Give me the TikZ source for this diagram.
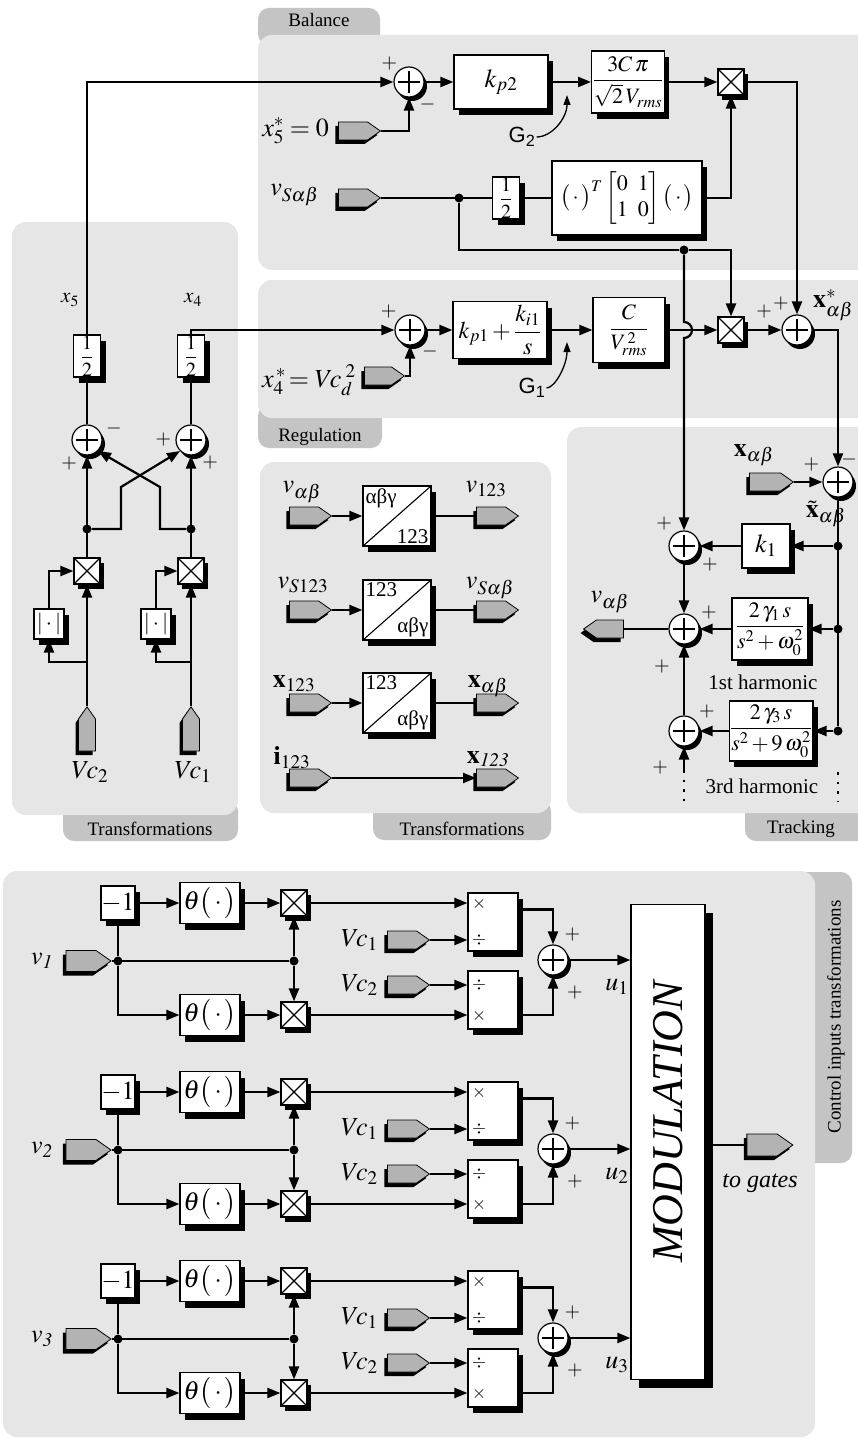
\documentclass[tikz,border=0pt]{standalone}
\usepackage{amsmath}
\usepackage{mathptmx}
\usepackage{fontspec}
\setmainfont{Liberation Serif}
\setsansfont{Liberation Sans}
\usepackage{tikz}
\usetikzlibrary{arrows.meta,shapes.symbols,shadows,calc}
\usepackage{xcolor}
\definecolor{panelbg}{HTML}{E6E6E6}
\definecolor{tabbg}{HTML}{C4C4C4}
\definecolor{portbg}{HTML}{B3B3B3}
\pgfdeclarelayer{bg}
\pgfsetlayers{bg,main}

\begin{document}
\begin{tikzpicture}[
    x=1pt, y=-1pt,
    ln/.style={line width=2.2pt},
    arr/.style={ln, -{Triangle[length=13pt,width=10pt]}},
    sarr/.style={line width=1.3pt, -{Triangle[length=10pt,width=7pt]}},
    dotl/.style={line width=2.5pt, dash pattern=on 2.5pt off 7pt},
    blk/.style={draw, fill=white, line width=1.2pt, inner sep=1pt, font=\fontsize{26}{30}\selectfont,
      drop shadow={shadow xshift=5pt, shadow yshift=-6pt, fill=black, opacity=1}},
    frc/.style={blk, font=\fontsize{22}{26}\selectfont},
    half/.style={blk, minimum width=27pt, minimum height=42pt, inner sep=0pt, font=\fontsize{20}{24}\selectfont},
    tfm/.style={blk, minimum width=68pt, minimum height=60pt,
      path picture={\draw[line width=1.1pt] (path picture bounding box.south west) -- (path picture bounding box.north east);}},
    cnr/.style={font=\fontsize{21}{24}\selectfont, inner sep=3pt},
    sumj/.style={circle, draw, fill=white, line width=1.2pt, minimum size=30pt, inner sep=0pt,
      drop shadow={shadow xshift=3pt, shadow yshift=-4pt, fill=black, opacity=1},
      path picture={\draw[line width=1.2pt] (path picture bounding box.center) +(-11pt,0pt) -- +(11pt,0pt) +(0pt,-11pt) -- +(0pt,11pt);}},
    mult/.style={draw, fill=white, line width=1.2pt, minimum size=26pt, inner sep=0pt,
      drop shadow={shadow xshift=4pt, shadow yshift=-5pt, fill=black, opacity=1},
      path picture={\draw[line width=1.1pt] (path picture bounding box.south west) -- (path picture bounding box.north east) (path picture bounding box.north west) -- (path picture bounding box.south east);}},
    port/.style={signal, signal to=east, signal pointer angle=70, draw, fill=portbg, line width=0.8pt,
      minimum width=42pt, minimum height=18pt, inner sep=0pt,
      drop shadow={shadow xshift=-3pt, shadow yshift=-4pt, fill=black, opacity=1}},
    jdot/.style={circle, fill, inner sep=0pt, minimum size=9pt},
    lbl/.style={font=\fontsize{26}{30}\selectfont, inner sep=1pt},
    slbl/.style={font=\fontsize{21}{24}\selectfont, inner sep=1pt},
    sgn/.style={font=\fontsize{20}{22}\selectfont, inner sep=0pt},
    opr/.style={font=\fontsize{18}{20}\selectfont, inner sep=0pt},
    gsf/.style={font=\fontsize{22}{24}\selectfont\sffamily, inner sep=1pt},
    tabtxt/.style={font=\fontsize{19}{22}\selectfont, inner sep=0pt},
  ]
  \useasboundingbox (0,0) rectangle (857,1439);

  \begin{pgfonlayer}{bg}
    \fill[tabbg, rounded corners=11pt] (258,8) rectangle (380,45);
    \fill[panelbg, rounded corners=14pt] (258,35) rectangle (880,270);
    \fill[tabbg, rounded corners=11pt] (258,405) rectangle (382,448);
    \fill[panelbg, rounded corners=14pt] (258,280) rectangle (880,418);
    \fill[tabbg, rounded corners=11pt] (63,800) rectangle (238,841);
    \fill[panelbg, rounded corners=14pt] (12,222) rectangle (238,815);
    \fill[tabbg, rounded corners=11pt] (373,800) rectangle (551,840);
    \fill[panelbg, rounded corners=14pt] (260,462) rectangle (551,813);
    \fill[tabbg, rounded corners=11pt] (745,800) rectangle (880,841);
    \fill[panelbg, rounded corners=14pt] (567,427) rectangle (880,813);
    \fill[tabbg, rounded corners=11pt] (790,872) rectangle (852,1163);
    \fill[panelbg, rounded corners=14pt] (3,871) rectangle (815,1437);
  \end{pgfonlayer}
  \node[tabtxt] (tbal) at (319,20) {Balance};
  \node[tabtxt] (treg) at (320,437) {Regulation};
  \node[tabtxt] (ttr1) at (150,829) {Transformations};
  \node[tabtxt] (ttr2) at (462,829) {Transformations};
  \node[tabtxt] (ttrk) at (801,829) {Tracking};
  \node[tabtxt, rotate=90] (tctl) at (836,1017) {Control inputs transformations};

  \node[sumj, label={[sgn, label distance=1pt]135:$+$}, label={[sgn, label distance=3pt]-55:$-$}] (sb) at (409,82) {};
  \node[blk, minimum width=94pt, minimum height=54pt] (kp2) at (501,82) {$k_{p2}$};
  \node[frc, minimum width=72pt, minimum height=62pt] (g2f) at (628,82) {$\dfrac{3C\,\pi}{\sqrt{2}\,V_{rms}}$};
  \node[mult] (mb) at (731,82) {};
  \node[port] (x5r) at (353,131) {};
  \node[lbl, anchor=east] (x5l) at (330,131) {$x_5^{*}=0$};
  \node[gsf] (g2) at (522,137) {G\textsubscript{2}};
  \coordinate (g2p) at (567,95);
  \node[port] (vs) at (353,198) {};
  \node[lbl, anchor=east] (vsl) at (320,195) {$v_{S\alpha\beta}$};
  \node[jdot] (dt1) at (459,198) {};
  \node[half] (hf1) at (506,198) {$\dfrac{1}{2}$};
  \node[frc, minimum width=150pt, minimum height=74pt] (mtx) at (627,198) {$\bigl(\,\cdot\,\bigr)^{T}\begin{bmatrix}0&1\\1&0\end{bmatrix}\bigl(\,\cdot\,\bigr)$};
  \node[jdot] (dt2) at (684,250) {};

  \node[sumj, label={[sgn, label distance=2pt]140:$+$}, label={[sgn, label distance=3pt]-50:$-$}] (sr) at (410,330) {};
  \node[port, minimum width=40pt] (x4r) at (378,376) {};
  \node[lbl, anchor=east] (x4l) at (357,380) {$x_4^{\,*}\!= V\!c_d^{\;2}$};
  \node[blk, minimum width=94pt, minimum height=57pt, font=\fontsize{24}{28}\selectfont] (kp1) at (500,330) {$k_{p1}+\dfrac{k_{i1}}{s}$};
  \node[frc, minimum width=72pt, minimum height=65pt] (g1f) at (629,330) {$\dfrac{C}{V_{rms}^{\,2}}$};
  \node[gsf] (g1) at (532,388) {G\textsubscript{1}};
  \coordinate (g1p) at (567,342);
  \node[mult] (mx) at (731,330) {};
  \node[sumj, label={[sgn, label distance=12pt]155:$+$}, label={[sgn, label distance=6pt]112:$+$}] (sx) at (797,330) {};
  \node[lbl, anchor=west] (xsl) at (812,305) {$\mathbf{x}^{*}_{\alpha\beta}$};

  \node[port, minimum width=44pt] (xab) at (765,482) {};
  \node[lbl] (xabl) at (754,455) {$\mathbf{x}_{\alpha\beta}$};
  \node[sumj, label={[sgn, label distance=6pt]150:$+$}, label={[sgn, label distance=0pt]78:$-$}] (st) at (838,482) {};
  \node[lbl] (xtl) at (826,514) {$\tilde{\mathbf{x}}_{\alpha\beta}$};
  \node[jdot] (dk1) at (838,546) {};
  \node[jdot] (dk2) at (838,629) {};
  \node[jdot] (dk3) at (838,731) {};
  \node[blk, minimum width=48pt, minimum height=44pt] (k1) at (766,546) {$k_1$};
  \node[sumj, label={[sgn, label distance=4pt]127:$+$}, label={[sgn, label distance=6pt]-34:$+$}] (sk) at (684,546) {};
  \node[frc, minimum width=76pt, minimum height=62pt] (h1) at (770,629) {$\dfrac{2\,\gamma_1\,s}{s^2+\omega_0^2}$};
  \node[sumj, label={[sgn, label distance=4pt]30:$+$}, label={[sgn, label distance=18pt]-115:$+$}] (sm) at (684,629) {};
  \node[slbl] (h1l) at (763,682) {1st harmonic};
  \node[frc, minimum width=82pt, minimum height=60pt] (h3) at (771,731) {$\dfrac{2\,\gamma_3\,s}{s^2+9\,\omega_0^2}$};
  \node[sumj, label={[sgn, label distance=4pt]40:$+$}, label={[sgn, label distance=18pt]-118:$+$}] (s3) at (684,731) {};
  \node[slbl] (h3l) at (762,786) {3rd harmonic};
  \node[port, signal to=west, minimum width=40pt] (vo) at (610,629) {};
  \node[lbl] (vol) at (610,602) {$v_{\alpha\beta}$};
  \coordinate (ds) at (684,770);
  \coordinate (dr) at (838,772);

  \node[port] (p1) at (304,516) {};
  \node[lbl] (p1l) at (302,492) {$v_{\alpha\beta}$};
  \node[tfm, label={[cnr, anchor=north west]north west:αβγ}, label={[cnr, anchor=south east]south east:123}] (t1) at (397,516) {};
  \node[port] (q1) at (491,516) {};
  \node[lbl] (q1l) at (486,489) {$v_{123}$};
  \node[port] (p2) at (304,610) {};
  \node[lbl] (p2l) at (303,585) {$v_{S123}$};
  \node[tfm, label={[cnr, anchor=north west]north west:123}, label={[cnr, anchor=south east]south east:αβγ}] (t2) at (397,610) {};
  \node[port] (q2) at (491,610) {};
  \node[lbl] (q2l) at (490,588) {$v_{S\alpha\beta}$};
  \node[port] (p3) at (304,703) {};
  \node[lbl] (p3l) at (294,684) {$\mathbf{x}_{123}$};
  \node[tfm, label={[cnr, anchor=north west]north west:123}, label={[cnr, anchor=south east]south east:αβγ}] (t3) at (397,703) {};
  \node[port] (q3) at (491,703) {};
  \node[lbl] (q3l) at (488,686) {$\mathbf{x}_{\alpha\beta}$};
  \node[port] (p4) at (304,778) {};
  \node[lbl] (p4l) at (292,758) {$\mathbf{i}_{123}$};
  \node[port] (q4) at (491,778) {};
  \node[lbl] (q4l) at (488,759) {$\mathbf{x}_{\mathit{123}}$};

  \node[slbl] (x5t) at (70,300) {$x_5$};
  \node[slbl] (x4t) at (193,300) {$x_4$};
  \node[half] (hx5) at (87,356) {$\dfrac{1}{2}$};
  \node[half] (hx4) at (191,356) {$\dfrac{1}{2}$};
  \node[sumj, label={[sgn, label distance=4pt]-120:$+$}, label={[sgn, label distance=4pt]15:$-$}] (s5) at (87,440) {};
  \node[sumj, label={[sgn, label distance=4pt]180:$+$}, label={[sgn, label distance=4pt]-55:$+$}] (s4) at (191,440) {};
  \node[jdot] (j5) at (87,529) {};
  \node[jdot] (j4) at (191,529) {};
  \node[mult] (m5) at (87,571) {};
  \node[mult] (m4) at (191,571) {};
  \node[blk, minimum width=30pt, minimum height=30pt, inner sep=0pt, font=\fontsize{22}{24}\selectfont] (a5) at (49,624) {$|\cdot|$};
  \node[blk, minimum width=30pt, minimum height=30pt, inner sep=0pt, font=\fontsize{22}{24}\selectfont] (a4) at (156,624) {$|\cdot|$};
  \coordinate (b5) at (87,662);
  \coordinate (b4) at (191,662);
  \node[port, signal to=north, minimum width=17pt, minimum height=32pt] (c5) at (87,735) {};
  \node[port, signal to=north, minimum width=17pt, minimum height=32pt] (c4) at (191,735) {};
  \node[lbl] (c5l) at (90,772) {$V\!c_2$};
  \node[lbl] (c4l) at (193,772) {$V\!c_1$};

  \node[draw, fill=white, line width=1.2pt, minimum width=74pt, minimum height=475pt,
    drop shadow={shadow xshift=8pt, shadow yshift=-8pt, fill=black, opacity=1}] (mod) at (668,1142) {};
  \node[rotate=90, font=\fontsize{44}{48}\selectfont\itshape] (modt) at (668,1122) {MODULATION};
  \node[port, minimum width=46pt, minimum height=22pt] (tg) at (762,1145) {};
  \node[font=\fontsize{24}{28}\selectfont\itshape] (tgl) at (760,1183) {to gates};
  \draw[ln] (mod.east |- tg) -- (tg);

  \foreach \row/\dy in {1/0,2/189,3/378}{
    \node[blk, minimum width=34pt, minimum height=34pt, inner sep=0pt] (ng\row) at (118,903+\dy) {$-1$};
    \node[blk, minimum width=60pt, minimum height=41pt] (thu\row) at (210,903+\dy) {$\theta\bigl(\,\cdot\,\bigr)$};
    \node[mult] (mu\row) at (294,903+\dy) {};
    \node[port, minimum width=45pt, minimum height=21pt] (vin\row) at (81,961+\dy) {};
    \node[lbl, anchor=east] (vl\row) at (54,961+\dy) {$v_{\mathit{\row}}$};
    \node[jdot] (jv\row) at (118,961+\dy) {};
    \node[jdot] (jm\row) at (294,961+\dy) {};
    \node[blk, minimum width=60pt, minimum height=41pt] (thl\row) at (210,1015+\dy) {$\theta\bigl(\,\cdot\,\bigr)$};
    \node[mult] (ml\row) at (294,1015+\dy) {};
    \node[port] (vca\row) at (402,940+\dy) {};
    \node[lbl, anchor=east] (vcal\row) at (379,940+\dy) {$V\!c_1$};
    \node[port] (vcb\row) at (402,985+\dy) {};
    \node[lbl, anchor=east] (vcbl\row) at (379,985+\dy) {$V\!c_2$};
    \node[blk, minimum width=50pt, minimum height=58pt] (dvu\row) at (493,922+\dy) {};
    \node[blk, minimum width=50pt, minimum height=58pt] (dvl\row) at (493,1000+\dy) {};
    \node[opr] (oa\row) at (479,904+\dy) {$\times$};
    \node[opr] (ob\row) at (479,940+\dy) {$\div$};
    \node[opr] (oc\row) at (479,985+\dy) {$\div$};
    \node[opr] (od\row) at (479,1016+\dy) {$\times$};
    \node[sumj, label={[sgn, label distance=6pt]58:$+$}, label={[sgn, label distance=14pt]-62:$+$}] (su\row) at (553,960+\dy) {};
    \node[lbl] (ul\row) at (617,987+\dy) {$u_{\row}$};
    \draw[arr] (ng\row) -- (thu\row);
    \draw[arr] (thu\row) -- (mu\row);
    \draw[ln] (vin\row) -- (jm\row);
    \draw[ln] (jv\row) -- (ng\row);
    \draw[arr] (jv\row) |- (thl\row);
    \draw[arr] (thl\row) -- (ml\row);
    \draw[arr] (jm\row) -- (mu\row);
    \draw[arr] (jm\row) -- (ml\row);
    \draw[arr] (mu\row) -- (mu\row -| dvu\row.west);
    \draw[arr] (vca\row) -- (vca\row -| dvu\row.west);
    \draw[arr] (vcb\row) -- (vcb\row -| dvl\row.west);
    \draw[arr] (ml\row) -- (ml\row -| dvl\row.west);
    \draw[arr] ($(dvu\row.north east)+(0,17)$) -| (su\row);
    \draw[arr] ($(dvl\row.south east)+(0,-15)$) -| (su\row);
    \draw[arr] (su\row) -- (su\row -| mod.west);
  }

  \draw[arr] (hx5) |- (sb);
  \draw[arr] (x5r) -| (sb);
  \draw[arr] (sb) -- (kp2);
  \draw[arr] (kp2) -- (g2f);
  \draw[arr] (g2f) -- (mb);
  \draw[arr] (mb) -| (sx);
  \draw[ln] (vs) -- (hf1);
  \draw[ln] (hf1) -- (mtx);
  \draw[arr] (mtx) -| (mb);
  \draw[arr] (dt1) |- (dt2) -| (mx);
  \draw[arr] (dt2) -- ++(0,72) arc[start angle=-90, end angle=90, radius=8] -- (sk);
  \draw[sarr] (g2) .. controls (552,137) and (567,118) .. (g2p);

  \draw[arr] (hx4) |- (sr);
  \draw[arr] (x4r) -| (sr);
  \draw[arr] (sr) -- (kp1);
  \draw[arr] (kp1) -- (g1f);
  \draw[arr] (g1f) -- (mx);
  \draw[arr] (mx) -- (sx);
  \draw[arr] (sx) -| (st);
  \draw[sarr] (g1) .. controls (555,388) and (567,365) .. (g1p);

  \draw[arr] (xab) -- (st);
  \draw[ln] (st) -- (dk3);
  \draw[arr] (dk1) -- (k1);
  \draw[arr] (k1) -- (sk);
  \draw[arr] (dk2) -- (h1);
  \draw[arr] (h1) -- (sm);
  \draw[arr] (dk3) -- (h3);
  \draw[arr] (h3) -- (s3);
  \draw[arr] (sk) -- (sm);
  \draw[arr] (s3) -- (sm);
  \draw[ln] (sm) -- (vo);
  \draw[arr] (ds) -- (s3);
  \draw[dotl] (ds) -- ++(0,32);
  \draw[dotl] (dr) -- ++(0,30);

  \draw[arr] (p1) -- (t1);
  \draw[ln] (t1) -- (q1);
  \draw[arr] (p2) -- (t2);
  \draw[ln] (t2) -- (q2);
  \draw[arr] (p3) -- (t3);
  \draw[ln] (t3) -- (q3);
  \draw[arr] (p4) -- (q4);

  \draw[arr] (c5) -- (m5);
  \draw[arr] (c4) -- (m4);
  \draw[arr] (b5) -| (a5);
  \draw[arr] (b4) -| (a4);
  \draw[arr] (a5) |- (m5);
  \draw[arr] (a4) |- (m4);
  \draw[arr] (m5) -- (s5);
  \draw[arr] (m4) -- (s4);
  \draw[arr] (j5) -| ++(34,-42) -- (s4.south west);
  \draw[arr] (j4) -| ++(-31,-42) -- (s5.south east);
  \draw[ln] (s5) -- (hx5);
  \draw[ln] (s4) -- (hx4);
\end{tikzpicture}
\end{document}
